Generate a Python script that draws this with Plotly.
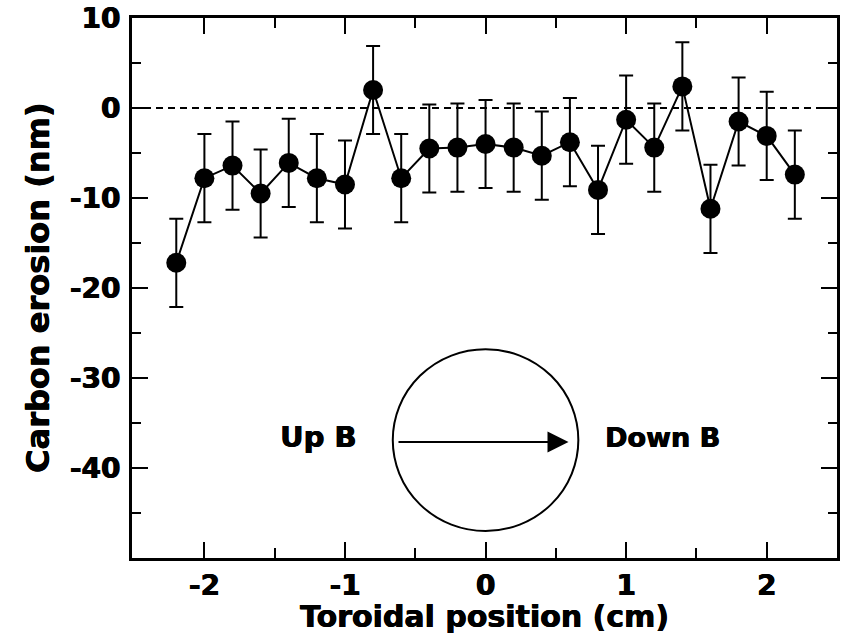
import plotly.graph_objects as go

# Toroidal position (cm) and measured carbon erosion (nm) with uncertainty
position_cm = [-2.2, -2.0, -1.8, -1.6, -1.4, -1.2, -1.0, -0.8, -0.6, -0.4, -0.2, 0.0,
               0.2, 0.4, 0.6, 0.8, 1.0, 1.2, 1.4, 1.6, 1.8, 2.0, 2.2]
erosion_nm = [-17.2, -7.8, -6.4, -9.5, -6.1, -7.8, -8.5, 2.0, -7.8, -4.5, -4.4, -4.0,
              -4.4, -5.3, -3.8, -9.1, -1.3, -4.4, 2.4, -11.2, -1.5, -3.1, -7.4]
erosion_err = [4.9] * len(position_cm)

x_ticks = [-2, -1, 0, 1, 2]
x_minor = [-1.5, -0.5, 0.5, 1.5]
y_ticks = [-40, -30, -20, -10, 0, 10]
y_minor = [-45, -35, -25, -15, -5, 5]
x_range = [-2.515, 2.5]
y_range = [-50, 10]

FONT = "DejaVu Sans, Verdana, sans-serif"
HEAVY = "0.6px 0 0 black, -0.3px 0 0 black"


def bold(size):
    return dict(family=FONT, size=size, color="black", weight="bold", shadow=HEAVY)


fig = go.Figure()
fig.add_trace(go.Scatter(
    x=position_cm, y=erosion_nm,
    mode="lines+markers",
    line=dict(color="black", width=2),
    marker=dict(color="black", size=20),
    error_y=dict(type="data", array=erosion_err, visible=True,
                 color="black", thickness=2, width=7),
    showlegend=False,
))

# zero reference
fig.add_shape(type="line", xref="paper", yref="y", x0=0, x1=1, y0=0, y1=0,
              line=dict(color="black", width=1.8, dash="7px,5px"), layer="below")

# field-direction sketch: circle with arrow
fig.add_shape(type="circle", xref="x", yref="y",
              x0=-0.66, x1=0.66, y0=-47.0, y1=-26.8,
              line=dict(color="black", width=2))
fig.add_annotation(x=0.59, y=-37.1, ax=-0.63, ay=-37.1, xref="x", yref="y",
                   axref="x", ayref="y", text="", showarrow=True,
                   arrowhead=2, arrowsize=2.1, arrowwidth=2, arrowcolor="black",
                   standoff=0, startstandoff=0)
fig.add_annotation(x=-1.19, y=-36.6, xref="x", yref="y", text="Up B",
                   showarrow=False, font=bold(29))
fig.add_annotation(x=1.26, y=-36.6, xref="x", yref="y", text="Down B",
                   showarrow=False, font=bold(27))

# axis titles
fig.add_annotation(x=0.5, y=0, xref="paper", yref="paper", yshift=-58,
                   text="Toroidal position (cm)", showarrow=False, yanchor="middle",
                   font=bold(30))
fig.add_annotation(x=0, y=0.5, xref="paper", yref="paper", xshift=-94,
                   text="Carbon erosion (nm)", showarrow=False, textangle=-90,
                   xanchor="center", font=bold(32))

tickfont = bold(28)
fig.update_xaxes(range=x_range, tickvals=x_ticks, ticktext=[str(v) for v in x_ticks],
                 ticks="inside", ticklen=16, tickwidth=2, tickcolor="black",
                 showline=True, linewidth=3, linecolor="black", mirror="allticks",
                 showgrid=False, zeroline=False, tickfont=tickfont,
                 ticklabelstandoff=0,
                 minor=dict(ticks="inside", ticklen=10, tickwidth=2, tickcolor="black",
                            tickvals=x_minor, showgrid=False))
fig.update_yaxes(range=y_range, tickvals=y_ticks, ticktext=[str(v) for v in y_ticks],
                 ticks="inside", ticklen=16, tickwidth=2, tickcolor="black",
                 showline=True, linewidth=3, linecolor="black", mirror="allticks",
                 showgrid=False, zeroline=False, tickfont=tickfont,
                 ticklabelstandoff=3,
                 minor=dict(ticks="inside", ticklen=9, tickwidth=2, tickcolor="black",
                            tickvals=y_minor, showgrid=False))

fig.update_layout(width=842, height=643,
                  margin=dict(l=132, r=5, t=18, b=85, autoexpand=False),
                  paper_bgcolor="white", plot_bgcolor="white")

fig.write_html("out.html")
